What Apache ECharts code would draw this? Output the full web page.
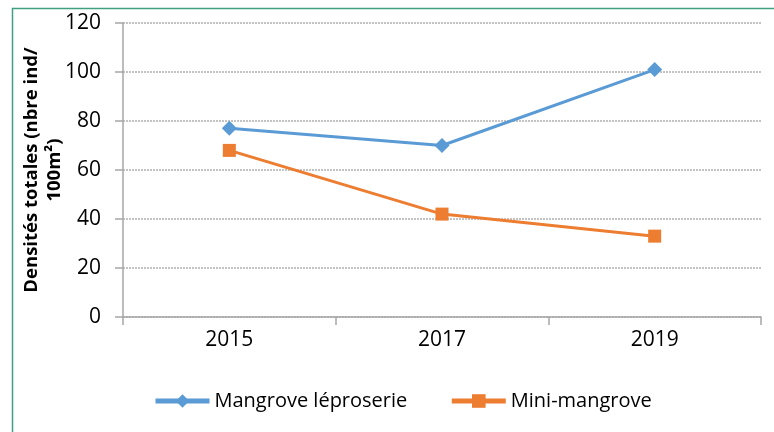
<!DOCTYPE html>
<html>
<head>
<meta charset="utf-8">
<script src="https://cdn.jsdelivr.net/npm/echarts@6/dist/echarts.min.js"></script>
<style>
  html, body { margin: 0; padding: 0; background: #fff; }
  #chart { width: 774px; height: 432px; }
</style>
</head>
<body>
<div id="chart"></div>
<script>
// valeurs
const years = ['2015', '2017', '2019'];
const leproserie = [77, 70, 101];
const miniMangrove = [68, 42, 33];
const yTicks = [0, 20, 40, 60, 80, 100, 120];

const font = '"Open Sans", "Liberation Sans", sans-serif';
const chart = echarts.init(document.getElementById('chart'));

chart.setOption({
    animation: false,
    textStyle: { fontFamily: font },
    graphic: [{
        type: 'rect',
        shape: { x: 12.5, y: 8.5, width: 800, height: 500 },
        style: { fill: 'none', stroke: '#3f9f7f', lineWidth: 1.5 },
        silent: true
    }],
    grid: { left: 123, right: 13, top: 23, bottom: 115 },
    legend: {
        left: 148, top: 386,
        itemWidth: 54, itemHeight: 17, itemGap: 42,
        lineStyle: { width: 5 },
        textStyle: { fontSize: 20, color: '#000', fontFamily: font },
        data: ['Mangrove léproserie', 'Mini-mangrove']
    },
    xAxis: {
        type: 'category',
        data: years,
        boundaryGap: true,
        axisLine: { lineStyle: { color: '#a6a6a6', width: 1.5 } },
        axisTick: { show: true, length: 8, lineStyle: { color: '#a6a6a6', width: 1.5 } },
        axisLabel: { fontSize: 21, color: '#000', margin: 13, fontFamily: font }
    },
    yAxis: {
        type: 'value',
        min: yTicks[0], max: yTicks[yTicks.length - 1], interval: 20,
        name: 'Densités totales (nbre ind/\n100m²)',
        nameLocation: 'middle',
        nameGap: 57,
        nameMoveOverlap: false,
        nameTextStyle: { fontSize: 18.5, fontWeight: 'bold', color: '#000', fontFamily: font, lineHeight: 23 },
        axisLine: { show: true, lineStyle: { color: '#a6a6a6', width: 1.5 } },
        axisTick: { show: true, length: 8, lineStyle: { color: '#a6a6a6', width: 1.5 } },
        axisLabel: { fontSize: 21, color: '#000', margin: 22, fontFamily: font },
        splitLine: { lineStyle: { color: '#b0b0b0', type: [2, 1], width: 1.5 } }
    },
    series: [{
        name: 'Mangrove léproserie',
        type: 'line',
        data: leproserie,
        symbol: 'diamond',
        symbolSize: 15,
        lineStyle: { color: '#5b9bd5', width: 3 },
        itemStyle: { color: '#5b9bd5' }
    }, {
        name: 'Mini-mangrove',
        type: 'line',
        data: miniMangrove,
        symbol: 'rect',
        symbolSize: 13,
        lineStyle: { color: '#ed7d31', width: 3 },
        itemStyle: { color: '#ed7d31' }
    }]
});
</script>
</body>
</html>
